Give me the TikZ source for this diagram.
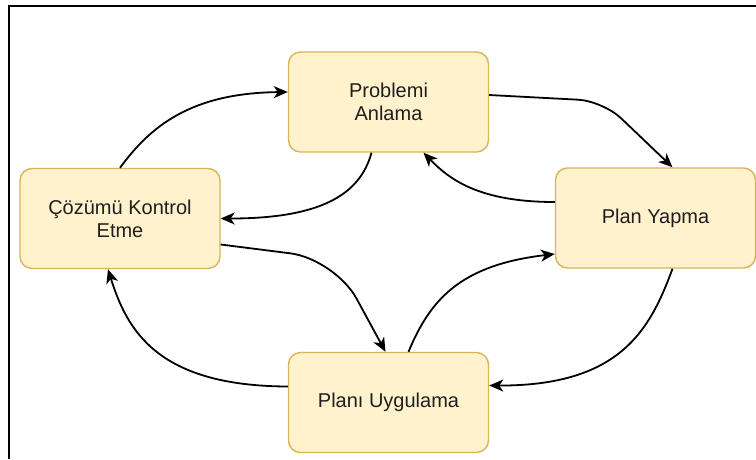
\documentclass[tikz,border=0pt]{standalone}
\usepackage{fontspec}
\setmainfont{Liberation Sans}
\usetikzlibrary{arrows.meta}
\definecolor{kutudolgu}{HTML}{FFF2CC}
\definecolor{kutukenar}{HTML}{D6B656}
\tikzset{
  kutu/.style={draw=kutukenar,fill=kutudolgu,line width=1.4pt,rounded corners=12pt,
    minimum width=200pt,minimum height=100pt,align=center,inner sep=0pt,
    font=\fontsize{20}{23}\selectfont,text=black!88},
  ok/.style={line width=1.8pt,-{Stealth[length=14pt,width=12pt,inset=4pt]}},
}
\begin{document}
\begin{tikzpicture}[x=1pt,y=-1pt]
  \useasboundingbox (0,0) rectangle (756,459);
  \draw[line width=2pt] (9,459) -- (9,5.5) -- (756,5.5);
  \node[kutu] (anlama) at (388.5,102) {Problemi\\Anlama};
  \node[kutu] (kontrol) at (120,218.5) {Çözümü Kontrol\\Etme};
  \node[kutu] (plan) at (655.5,218) {Plan Yapma};
  \node[kutu] (uygulama) at (388.5,402.5) {Planı Uygulama};
  \draw[ok] (kontrol.north) .. controls (150,127) and (190,93) .. ([yshift=10pt]anlama.west);
  \draw[ok,rounded corners=25pt] ([yshift=7pt]anlama.east) -- (603,101) -- ([xshift=17pt]plan.north);
  \draw[ok] ([xshift=17pt]plan.south) .. controls (650,330) and (620,386) .. ([yshift=17pt]uygulama.east);
  \draw[ok] ([yshift=16pt]uygulama.west) .. controls (157,386) and (127,330) .. ([xshift=-12pt]kontrol.south);
  \draw[ok] ([xshift=-17pt]anlama.south) .. controls (360,195) and (320,218.5) .. (kontrol.east);
  \draw[ok] ([yshift=16pt]plan.west) .. controls (480,202) and (450,180) .. ([xshift=35pt]anlama.south);
  \draw[ok,rounded corners=45pt] ([yshift=-26pt]kontrol.east) -- (335,259) -- ([xshift=-3pt]uygulama.north);
  \draw[ok] ([xshift=20pt]uygulama.north) .. controls (430,300) and (460,265) .. ([yshift=-36pt]plan.west);
\end{tikzpicture}
\end{document}
